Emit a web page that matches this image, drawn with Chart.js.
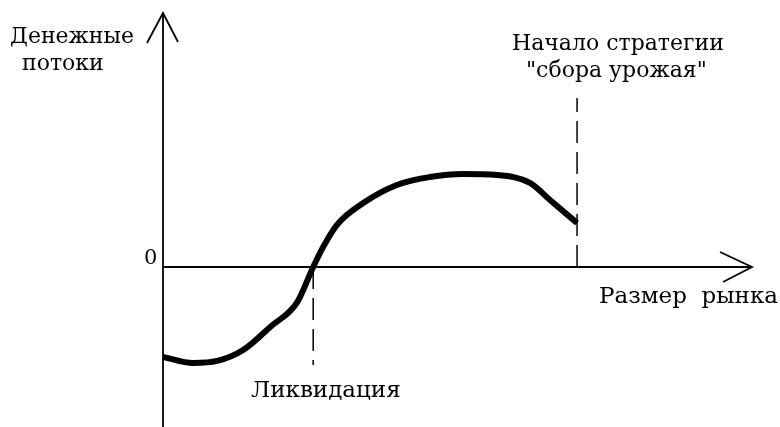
<!DOCTYPE html>
<html>
<head>
<meta charset="utf-8">
<script src="https://cdn.jsdelivr.net/npm/chart.js@4"></script>
<style>
  html, body { margin: 0; padding: 0; background: #fff; }
  #wrap { width: 780px; height: 427px; }
</style>
</head>
<body>
<div id="wrap"><canvas id="chart_1" width="780" height="427"></canvas></div>
<script>
// market size (x) and cash flow (y)
let market_size = [0, 0.51, 0.92, 1.36, 1.82, 2.28, 2.55, 2.72, 2.95, 3.40, 3.97, 4.53, 5.09, 5.67, 6.23, 6.57, 7.03];
let cash_flow = [-3.54, -3.78, -3.70, -3.27, -2.36, -1.38, 0, 0.79, 1.65, 2.52, 3.23, 3.54, 3.66, 3.62, 3.31, 2.64, 1.73];

// axis ranges
let x_range = [0, 10];
let y_range = [-6.3, 10];

// marker lines: liquidation point and start of harvest strategy
let liquidation_x = 2.55;
let liquidation_y = [0, -3.86];
let harvest_x = 7.03;
let harvest_y = [0, 6.65];

// texts
let y_title = ['Денежные', 'потоки'];
let x_title = 'Размер  рынка';
let zero_label = '0';
let liquidation_label = 'Ликвидация';
let harvest_label = ['Начало стратегии', '"сбора урожая"'];

let chart_canvas = document.getElementById('chart_1');

const axes_plugin = {
    id: 'axes_plugin',
    afterDraw: (chart) => {
        let ctx = chart.ctx;
        let xs = chart.scales.x;
        let ys = chart.scales.y;
        let x0 = xs.getPixelForValue(0);
        let y0 = ys.getPixelForValue(0);
        let x_end = xs.getPixelForValue(x_range[1]);
        let y_top = ys.getPixelForValue(y_range[1]);
        let y_bot = ys.getPixelForValue(y_range[0]);

        ctx.save();
        ctx.strokeStyle = '#000';
        ctx.lineWidth = 1.8;
        ctx.setLineDash([]);
        // y axis + arrow
        ctx.beginPath();
        ctx.moveTo(x0, y_bot);
        ctx.lineTo(x0, y_top);
        ctx.moveTo(x0 - 16, y_top + 30);
        ctx.lineTo(x0, y_top);
        ctx.lineTo(x0 + 15, y_top + 29);
        // x axis + arrow
        ctx.moveTo(x0, y0);
        ctx.lineTo(x_end, y0);
        ctx.moveTo(x_end - 32, y0 - 15);
        ctx.lineTo(x_end, y0);
        ctx.lineTo(x_end - 29, y0 + 15);
        ctx.stroke();

        // dashed markers
        ctx.lineWidth = 1.5;
        ctx.setLineDash([22, 9]);
        ctx.beginPath();
        ctx.moveTo(xs.getPixelForValue(liquidation_x), ys.getPixelForValue(liquidation_y[0]));
        ctx.lineTo(xs.getPixelForValue(liquidation_x), ys.getPixelForValue(liquidation_y[1]));
        ctx.stroke();
        ctx.beginPath();
        ctx.moveTo(xs.getPixelForValue(harvest_x), ys.getPixelForValue(harvest_y[0]));
        ctx.lineTo(xs.getPixelForValue(harvest_x), ys.getPixelForValue(harvest_y[1]));
        ctx.stroke();
        ctx.setLineDash([]);

        // labels
        ctx.fillStyle = '#000';
        ctx.textBaseline = 'alphabetic';
        ctx.textAlign = 'left';
        ctx.font = '22px "DejaVu Serif"';
        ctx.fillText(y_title[0], 10, 43);
        ctx.fillText(y_title[1], 22, 70);
        ctx.fillText(harvest_label[0], 512, 50);
        ctx.fillText(harvest_label[1], 526, 77);
        ctx.font = '23px "DejaVu Serif"';
        ctx.fillText(x_title, 599, 303);
        ctx.fillText(liquidation_label, 251, 397);
        ctx.font = '21px "DejaVu Serif"';
        ctx.fillText(zero_label, 144, 264);
        ctx.restore();
    }
};

let chart = new Chart(chart_canvas, {
    type: 'line',
    data: {
        datasets: [{
            label: 'cash flow',
            data: market_size.map((v, i) => ({ x: v, y: cash_flow[i] })),
            borderColor: '#000',
            borderWidth: 6,
            pointRadius: 0,
            cubicInterpolationMode: 'monotone',
            fill: false
        }]
    },
    options: {
        responsive: false,
        animation: false,
        layout: { padding: { left: 163, right: 28, top: 13, bottom: 0 } },
        plugins: { legend: { display: false }, tooltip: { enabled: false } },
        scales: {
            x: { type: 'linear', min: x_range[0], max: x_range[1], display: false },
            y: { type: 'linear', min: y_range[0], max: y_range[1], display: false }
        }
    },
    plugins: [axes_plugin]
});
</script>
</body>
</html>
